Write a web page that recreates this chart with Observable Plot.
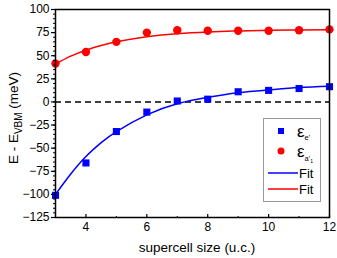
<!DOCTYPE html>
<html>
<head>
<meta charset="utf-8">
<script src="https://cdn.jsdelivr.net/npm/d3@7"></script>
<script src="https://cdn.jsdelivr.net/npm/@observablehq/plot@0.6"></script>
<style>
  html, body { margin: 0; padding: 0; background: white; }
  #chart { position: relative; width: 337px; height: 258px; }
</style>
</head>
<body>
<div id="chart"></div>
<script>
// supercell sizes
const sizes = [3, 4, 5, 6, 7, 8, 9, 10, 11, 12];
// epsilon_e' (blue squares), meV
const epsE = [-101, -66, -32, -11, 1, 3, 11, 12.5, 14.5, 16.5];
// epsilon_a'1 (red circles), meV
const epsA = [41.5, 54, 65, 75, 77.5, 77, 77, 77, 77.5, 78.5];
// fit curves
const fitSizes = [3, 3.5, 4, 4.5, 5, 6, 7, 8, 9, 10, 11, 12];
const fitE = [-100, -78, -59, -44, -32, -14, -2, 5, 10, 13, 15.5, 17];
const fitA = [41, 49.5, 56, 61, 65, 70.5, 73.8, 75.6, 76.8, 77.5, 77.9, 78.2];
// ticks
const yMajor = [-125, -100, -75, -50, -25, 0, 25, 50, 75, 100];
const xMajor = [4, 6, 8, 10, 12];
const xMinor = [5, 7, 9, 11];

const pts = (xs, ys) => xs.map((x, i) => ({x, y: ys[i]}));
const ptsE = pts(sizes, epsE), ptsA = pts(sizes, epsA);
const lineE = pts(fitSizes, fitE), lineA = pts(fitSizes, fitA);

const font = "'Liberation Sans', Arial, sans-serif";

const plot = Plot.plot({
  width: 337, height: 258,
  marginLeft: 55, marginRight: 8, marginTop: 9, marginBottom: 41,
  style: {fontFamily: font, fontSize: "12px", background: "white", color: "black"},
  x: {domain: [3, 12]},
  y: {domain: [-125, 100]},
  marks: [
    Plot.ruleY([0], {stroke: "black", strokeWidth: 1.5, strokeDasharray: "6,4"}),
    Plot.line(lineE, {x: "x", y: "y", stroke: "#0000ff", strokeWidth: 1.5, curve: "natural"}),
    Plot.line(lineA, {x: "x", y: "y", stroke: "#ff0000", strokeWidth: 1.5, curve: "natural"}),
    Plot.dot(ptsE, {x: "x", y: "y", symbol: "square", r: 4, fill: "#0000ff"}),
    Plot.dot(ptsA, {x: "x", y: "y", symbol: "circle", r: 4.2, fill: "#ff0000"}),
    Plot.axisY({ticks: yMajor, tickSize: 4, tickPadding: 2, label: null, fontSize: 12, strokeWidth: 1.2}),
    Plot.axisY({ticks: d3.range(-125, 101, 5), tickSize: 2, text: null, label: null}),
    Plot.axisX({ticks: xMajor, tickSize: 0, tickPadding: 5, label: null, fontSize: 12}),
    Plot.axisX({anchor: "top", frameAnchor: "bottom", ticks: xMajor, tickSize: 4, text: null, label: null, strokeWidth: 1.2}),
    Plot.axisX({anchor: "top", frameAnchor: "bottom", ticks: xMinor, tickSize: 2, text: null, label: null}),
    Plot.frame({stroke: "black", strokeWidth: 1.5})
  ]
});

document.getElementById("chart").appendChild(plot);
const svg = d3.select(plot);

// y axis title with subscript
const yt = svg.append("text")
  .attr("transform", "translate(18,118) rotate(-90)")
  .attr("text-anchor", "middle")
  .attr("font-family", font).attr("font-size", 13.5).attr("fill", "black");
yt.append("tspan").text("E - E");
yt.append("tspan").attr("font-size", 10).attr("dy", 3.5).text("VBM");
yt.append("tspan").attr("dy", -3.5).text(" (meV)");

// x axis title
svg.append("text")
  .attr("x", 197).attr("y", 252)
  .attr("text-anchor", "middle")
  .attr("font-family", font).attr("font-size", 13.5).attr("fill", "black")
  .text("supercell size (u.c.)");

// legend
const lg = svg.append("g").attr("font-family", font).attr("fill", "black").attr("text-anchor", "start");
lg.append("rect").attr("x", 263.5).attr("y", 118.5).attr("width", 57).attr("height", 83)
  .attr("fill", "white").attr("stroke", "#999").attr("stroke-width", 1);
lg.append("rect").attr("x", 278).attr("y", 128).attr("width", 6).attr("height", 6).attr("fill", "#0000ff");
lg.append("circle").attr("cx", 281).attr("cy", 151).attr("r", 3.5).attr("fill", "#ff0000");
const t1 = lg.append("text").attr("x", 297).attr("y", 137).attr("font-size", 17);
t1.append("tspan").text("ε");
t1.append("tspan").attr("font-size", 7.5).attr("dy", 3).text("e'");
const t2 = lg.append("text").attr("x", 297).attr("y", 157).attr("font-size", 17);
t2.append("tspan").text("ε");
t2.append("tspan").attr("font-size", 7.5).attr("dy", 4).text("a'");
t2.append("tspan").attr("font-size", 5).attr("dy", 2).text("1");
lg.append("line").attr("x1", 268).attr("x2", 298).attr("y1", 173).attr("y2", 173).attr("stroke", "#0000ff").attr("stroke-width", 1.5);
lg.append("line").attr("x1", 268).attr("x2", 298).attr("y1", 189).attr("y2", 189).attr("stroke", "#ff0000").attr("stroke-width", 1.5);
lg.append("text").attr("x", 299).attr("y", 178).attr("font-size", 13).text("Fit");
lg.append("text").attr("x", 299).attr("y", 194).attr("font-size", 13).text("Fit");
</script>
</body>
</html>
